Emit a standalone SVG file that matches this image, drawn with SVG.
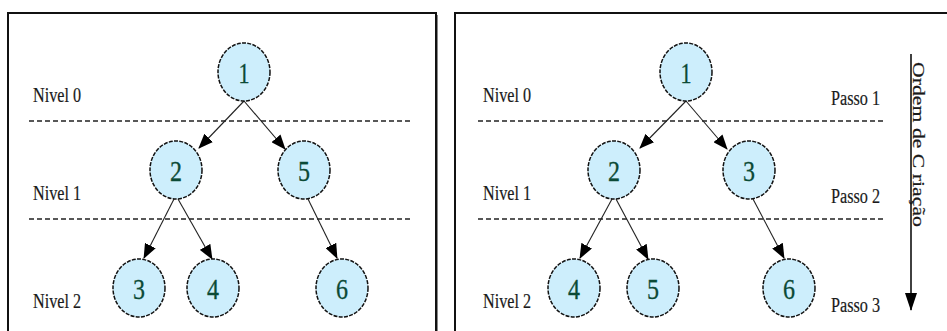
<svg xmlns="http://www.w3.org/2000/svg" width="947" height="331" viewBox="0 0 947 331">
<defs>
<style>
.panel{fill:none;stroke:#111;stroke-width:2}
.lvl{fill:none;stroke:#222;stroke-width:1.3;stroke-dasharray:5,3}
.node ellipse{fill:#cdeefc;stroke:#111;stroke-width:1.5;stroke-dasharray:4,1.3}
.node text{font-family:'Liberation Serif','Times New Roman','DejaVu Serif',serif;font-size:29px;fill:#0b4a36;stroke:#0b4a36;stroke-width:0.3;text-anchor:middle}
.lbl{font-family:'Liberation Serif','Times New Roman','DejaVu Serif',serif;font-size:20px;fill:#1a1a1a;stroke:#1a1a1a;stroke-width:0.2}
.edge{stroke:#222;stroke-width:1.1;fill:none;marker-end:url(#ah)}
</style>
<marker id="ah" markerUnits="userSpaceOnUse" markerWidth="15" markerHeight="12" viewBox="0 0 15 12" refX="14" refY="6" orient="auto">
<path d="M0,0 L15,6 L0,12 z" fill="#000"/>
</marker>
<marker id="ah2" markerUnits="userSpaceOnUse" markerWidth="18" markerHeight="12" viewBox="0 0 18 12" refX="17" refY="6" orient="auto">
<path d="M0,0 L18,6 L0,12 z" fill="#000"/>
</marker>
</defs>
<rect width="947" height="331" fill="#fff"/>
<g id="panels">
<path class="panel" d="M8,340 V13 H436 V340"/>
<path d="M437.5,15 V340" stroke="#888" stroke-width="1"/>
<path class="panel" d="M455,340 V13 H950"/>
</g>
<g id="levels">
<line class="lvl" x1="29" y1="121" x2="410" y2="121"/>
<line class="lvl" x1="29" y1="219" x2="410" y2="219"/>
<line class="lvl" x1="478" y1="121" x2="883" y2="121"/>
<line class="lvl" x1="478" y1="219" x2="883" y2="219"/>
</g>
<g id="labels">
<text class="lbl" x="33" y="102" textLength="48" lengthAdjust="spacingAndGlyphs">Nivel 0</text>
<text class="lbl" x="33" y="200" textLength="48" lengthAdjust="spacingAndGlyphs">Nivel 1</text>
<text class="lbl" x="33" y="308" textLength="48" lengthAdjust="spacingAndGlyphs">Nivel 2</text>
<text class="lbl" x="483" y="102" textLength="48" lengthAdjust="spacingAndGlyphs">Nivel 0</text>
<text class="lbl" x="483" y="200" textLength="48" lengthAdjust="spacingAndGlyphs">Nivel 1</text>
<text class="lbl" x="483" y="308" textLength="48" lengthAdjust="spacingAndGlyphs">Nivel 2</text>
<text class="lbl" x="831" y="105" textLength="49" lengthAdjust="spacingAndGlyphs">Passo 1</text>
<text class="lbl" x="831" y="203" textLength="49" lengthAdjust="spacingAndGlyphs">Passo 2</text>
<text class="lbl" x="831" y="312" textLength="49" lengthAdjust="spacingAndGlyphs">Passo 3</text>
</g>
<g id="connectors">
<line class="edge" x1="244" y1="101" x2="199" y2="148"/>
<line class="edge" x1="244" y1="101" x2="285" y2="149"/>
<line class="edge" x1="174" y1="199" x2="144" y2="258"/>
<line class="edge" x1="178" y1="199" x2="212" y2="259"/>
<line class="edge" x1="308" y1="199" x2="337" y2="258"/>
<line class="edge" x1="686" y1="101" x2="640" y2="148"/>
<line class="edge" x1="686" y1="101" x2="727" y2="149"/>
<line class="edge" x1="612" y1="199" x2="580" y2="258"/>
<line class="edge" x1="616" y1="199" x2="648" y2="259"/>
<line class="edge" x1="753" y1="199" x2="784" y2="258"/>
<line x1="911" y1="54" x2="911" y2="310" stroke="#111" stroke-width="1.6" marker-end="url(#ah2)"/>
</g>
<text class="lbl" transform="translate(913,62) rotate(90)" textLength="165" lengthAdjust="spacingAndGlyphs" style="font-size:17px">Ordem de C riação</text>
<g id="n1" class="node"><ellipse cx="244" cy="72" rx="26" ry="29"/><text x="244" y="83" textLength="11" lengthAdjust="spacingAndGlyphs">1</text></g>
<g id="n2" class="node"><ellipse cx="176" cy="170" rx="26" ry="29"/><text x="176" y="181" textLength="12" lengthAdjust="spacingAndGlyphs">2</text></g>
<g id="n5" class="node"><ellipse cx="304" cy="170" rx="26" ry="29"/><text x="304" y="181" textLength="12" lengthAdjust="spacingAndGlyphs">5</text></g>
<g id="n3" class="node"><ellipse cx="139" cy="288" rx="26" ry="29"/><text x="139" y="299" textLength="12" lengthAdjust="spacingAndGlyphs">3</text></g>
<g id="n4" class="node"><ellipse cx="213" cy="288" rx="26" ry="29"/><text x="213" y="299" textLength="12" lengthAdjust="spacingAndGlyphs">4</text></g>
<g id="n6" class="node"><ellipse cx="342" cy="288" rx="26" ry="29"/><text x="342" y="299" textLength="12" lengthAdjust="spacingAndGlyphs">6</text></g>
<g id="m1" class="node"><ellipse cx="686" cy="72" rx="26" ry="29"/><text x="686" y="83" textLength="11" lengthAdjust="spacingAndGlyphs">1</text></g>
<g id="m2" class="node"><ellipse cx="614" cy="170" rx="26" ry="29"/><text x="614" y="181" textLength="12" lengthAdjust="spacingAndGlyphs">2</text></g>
<g id="m3" class="node"><ellipse cx="749" cy="170" rx="26" ry="29"/><text x="749" y="181" textLength="12" lengthAdjust="spacingAndGlyphs">3</text></g>
<g id="m4" class="node"><ellipse cx="574" cy="288" rx="26" ry="29"/><text x="574" y="299" textLength="12" lengthAdjust="spacingAndGlyphs">4</text></g>
<g id="m5" class="node"><ellipse cx="653" cy="288" rx="26" ry="29"/><text x="653" y="299" textLength="12" lengthAdjust="spacingAndGlyphs">5</text></g>
<g id="m6" class="node"><ellipse cx="789" cy="288" rx="26" ry="29"/><text x="789" y="299" textLength="12" lengthAdjust="spacingAndGlyphs">6</text></g>
</svg>
